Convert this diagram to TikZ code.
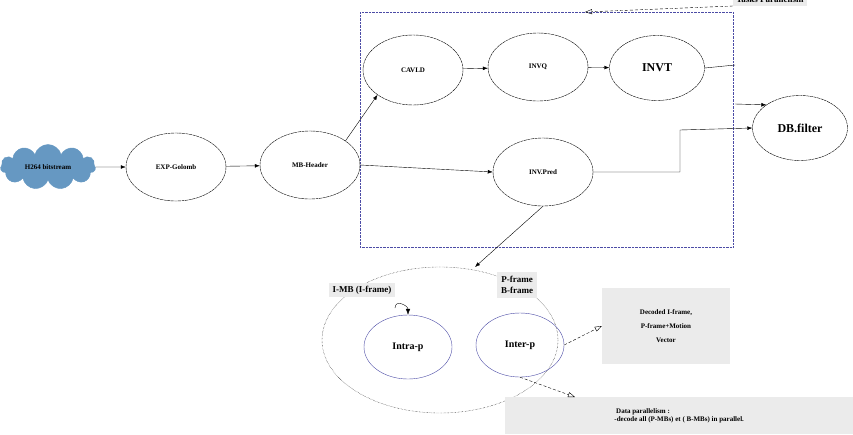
\documentclass[tikz,border=0pt]{standalone}
\usepackage{fontspec}
\setmainfont{Liberation Serif}
\usetikzlibrary{shapes.symbols, shapes.geometric, arrows.meta}
\colorlet{CloudFill}{blue!45!cyan!60!black!60}
\colorlet{NoteFill}{black!8}
\colorlet{TaskBorder}{blue!50!black!70}
\tikzset{
    stage/.style={draw, dashed, dash pattern=on 3pt off 0.6pt, ellipse, inner sep=0pt, font=\bfseries\scriptsize},
    pred/.style={draw=TaskBorder, ellipse, inner sep=0pt, minimum width=88pt, minimum height=64pt, font=\bfseries\normalsize},
    note/.style={fill=NoteFill, font=\bfseries\small, align=center},
    flow/.style={-{Latex[length=5pt]}},
    hint/.style={densely dashed, -{Triangle[open, length=7pt, width=5pt]}}
}

\begin{document}
\begin{tikzpicture}[x=1pt, y=-1pt]
\useasboundingbox (0,0) rectangle (853,434);

% Zone des taches
\draw[TaskBorder, densely dotted] (360,12) rectangle (733,247);

\node[cloud, cloud puffs=11, aspect=2.2, fill=CloudFill, draw=CloudFill, inner sep=0pt,
      minimum width=95pt, minimum height=45pt, font=\bfseries\scriptsize] (bits) at (48,167) {H264 bitstream};
\node[stage, minimum width=100pt, minimum height=68pt] (golomb) at (176,167) {EXP-Golomb};
\node[stage, minimum width=100pt, minimum height=68pt] (header) at (310,165) {MB-Header};
\node[stage, minimum width=100pt, minimum height=70pt] (cavld) at (413,70) {CAVLD};
\node[stage, minimum width=100pt, minimum height=68pt] (invq) at (538,67) {INVQ};
\node[stage, minimum width=95pt, minimum height=65pt, font=\bfseries\large] (invt) at (657,68) {INVT};
\node[stage, minimum width=100pt, minimum height=68pt] (pred) at (543,172) {INV.Pred};
\node[stage, minimum width=95pt, minimum height=65pt, font=\bfseries\large] (dbf) at (800,128) {DB.filter};

\coordinate (tEnd) at (735,65);
\coordinate (dStart) at (735,104);
\coordinate (bend) at (680,130);
\coordinate (tBox) at (585,12);

\draw[flow] (bits) -- (golomb);
\draw[flow] (golomb) -- (header);
\draw[flow] (header.north east) -- (cavld.south west);
\draw[flow] (cavld) -- (invq);
\draw[flow] (invq) -- (invt);
\draw (invt.east) -- (tEnd);
\draw[flow] (dStart) -- (dbf.north west);
\draw[flow] (header.east) -- (pred.west);
\draw[flow] (pred.east) -| (bend) -- (dbf.west);

\node[note, anchor=south] (tasks) at (770,6) {Tasks Parallelism};
\draw[hint] (tasks.south west) -- (tBox);

% Prediction
\draw[densely dotted] (440,340) ellipse (118pt and 73pt);
\coordinate (ring) at (475,267);
\draw[flow] (pred.south) -- (ring);

\node[pred] (intra) at (408,347) {Intra-p};
\node[pred] (inter) at (520,345) {Inter-p};

\node[note] (imb) at (362,290) {I-MB (I-frame)};
\node[note, inner sep=4pt] (pb) at (517,285) {P-frame\\B-frame};
\node[note, minimum width=128pt, minimum height=76pt, font=\bfseries\scriptsize, align=center] (dec) at (666,326)
  {Decoded I-frame,\\[6pt] P-frame+Motion\\[6pt] Vector};
\node[note, minimum width=348pt, minimum height=37pt, font=\bfseries\scriptsize, align=left, anchor=north west] (data) at (505,397)
  {\ Data parallelism :\\-decode all (P-MBs) et ( B-MBs) in parallel.};

\coordinate (loop) at (395,308);
\draw[-{Latex[length=6pt]}] (loop) to[out=90, in=90, looseness=1.6] (intra.north);
\draw[hint] (inter.east) -- (dec.west);
\draw[hint] (inter.south) -- ([xshift=70pt]data.north west);
\end{tikzpicture}
\end{document}
